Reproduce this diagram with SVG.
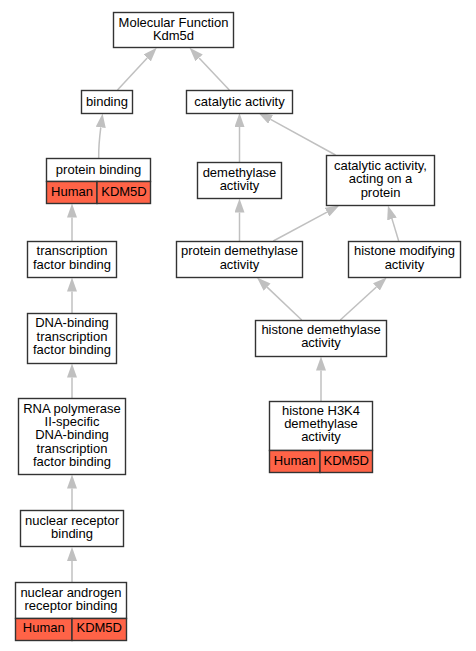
<svg xmlns="http://www.w3.org/2000/svg" width="476" height="651" viewBox="0 0 476 651">
<style>
.b{fill:#fff;stroke:#333;stroke-width:1.4}
.c{fill:#ff6347;stroke:#333;stroke-width:1.4}
text{font-family:"Liberation Sans",Arial,sans-serif;font-size:13px;fill:#000;text-anchor:middle}
.e{fill:none;stroke:#c0c0c0;stroke-width:1.5;marker-end:url(#ah)}
</style>
<defs>
<marker id="ah" viewBox="0 0 14 10" refX="0" refY="5" markerWidth="14" markerHeight="10" markerUnits="userSpaceOnUse" orient="auto">
<path d="M0,0 L14,5 L0,10 z" fill="#c0c0c0"/>
</marker>
</defs>
<rect width="476" height="651" fill="#fff"/>
<g id="edges">
<path class="e" d="M117.5,90 L147.2,58"/>
<path class="e" d="M229.3,90 L199.1,57.9"/>
<path class="e" d="M98.7,158 C98.5,147 99.3,139 100.8,127.3"/>
<path class="e" d="M239.5,162 L239.5,127"/>
<path class="e" d="M335.5,155 L270.6,119.4"/>
<path class="e" d="M72,241 L72,217.5"/>
<path class="e" d="M239.5,241 L239.5,212.5"/>
<path class="e" d="M273.3,241 L327,212.1"/>
<path class="e" d="M398.7,241 L392,218.9"/>
<path class="e" d="M301.7,320 L267.1,287.1"/>
<path class="e" d="M340.3,320 L376.4,287"/>
<path class="e" d="M72,313 L72,291.5"/>
<path class="e" d="M321,401 L321,370.5"/>
<path class="e" d="M72,398 L72,377.5"/>
<path class="e" d="M72,510.5 L72,488.5"/>
<path class="e" d="M72,582 L72,561"/>
</g>
<g id="mf">
<rect class="b" x="113.5" y="12.5" width="120" height="35"/>
<text x="173.5" y="26.5">Molecular Function</text>
<text x="173.5" y="39.5">Kdm5d</text>
</g>
<g id="binding">
<rect class="b" x="81.5" y="90.5" width="51" height="23"/>
<text x="107" y="106">binding</text>
</g>
<g id="catalytic">
<rect class="b" x="186.5" y="90.5" width="106" height="23"/>
<text x="239.5" y="106">catalytic activity</text>
</g>
<g id="proteinbinding">
<rect class="b" x="46.5" y="158.5" width="104" height="23"/>
<rect class="c" x="46.5" y="181.5" width="50.5" height="22"/>
<rect class="c" x="97" y="181.5" width="53.5" height="22"/>
<text x="98.5" y="173.5">protein binding</text>
<text x="72" y="196">Human</text>
<text x="124" y="196">KDM5D</text>
</g>
<g id="demethylase">
<rect class="b" x="197.5" y="162.5" width="84" height="36"/>
<text x="239.5" y="177">demethylase</text>
<text x="239.5" y="190">activity</text>
</g>
<g id="catprotein">
<rect class="b" x="326.5" y="155.5" width="108" height="50"/>
<text x="380.5" y="170">catalytic activity,</text>
<text x="380.5" y="183.3">acting on a</text>
<text x="380.5" y="196.6">protein</text>
</g>
<g id="tfbinding">
<rect class="b" x="27.5" y="241.5" width="89" height="36"/>
<text x="72" y="255">transcription</text>
<text x="72" y="268.5">factor binding</text>
</g>
<g id="protdemeth">
<rect class="b" x="176.5" y="241.5" width="126" height="36"/>
<text x="239.5" y="255">protein demethylase</text>
<text x="239.5" y="268.5">activity</text>
</g>
<g id="histmod">
<rect class="b" x="348.5" y="241.5" width="112" height="36"/>
<text x="404.5" y="255">histone modifying</text>
<text x="404.5" y="268.5">activity</text>
</g>
<g id="histdemeth">
<rect class="b" x="255.5" y="320.5" width="131" height="36"/>
<text x="321" y="334">histone demethylase</text>
<text x="321" y="347">activity</text>
</g>
<g id="dnatf">
<rect class="b" x="27.5" y="313.5" width="89" height="50"/>
<text x="72" y="327">DNA-binding</text>
<text x="72" y="340.5">transcription</text>
<text x="72" y="354">factor binding</text>
</g>
<g id="rnapol">
<rect class="b" x="18.5" y="398.5" width="107" height="76"/>
<text x="72" y="412.7">RNA polymerase</text>
<text x="72" y="426">II-specific</text>
<text x="72" y="439.3">DNA-binding</text>
<text x="72" y="452.6">transcription</text>
<text x="72" y="465.9">factor binding</text>
</g>
<g id="h3k4">
<rect class="b" x="269.5" y="401.5" width="103" height="49"/>
<rect class="c" x="269.5" y="450.5" width="50.5" height="22"/>
<rect class="c" x="320" y="450.5" width="52.5" height="22"/>
<text x="321" y="414.5">histone H3K4</text>
<text x="321" y="428">demethylase</text>
<text x="321" y="441.3">activity</text>
<text x="294.75" y="465">Human</text>
<text x="346.25" y="465">KDM5D</text>
</g>
<g id="nucrec">
<rect class="b" x="20.5" y="510.5" width="103" height="36"/>
<text x="72" y="525">nuclear receptor</text>
<text x="72" y="538">binding</text>
</g>
<g id="nucandro">
<rect class="b" x="15.5" y="582.5" width="111" height="36"/>
<rect class="c" x="15.5" y="618.5" width="56.5" height="22"/>
<rect class="c" x="72" y="618.5" width="54.5" height="22"/>
<text x="71" y="597">nuclear androgen</text>
<text x="71" y="610">receptor binding</text>
<text x="43.75" y="632">Human</text>
<text x="99.25" y="632">KDM5D</text>
</g>
</svg>
